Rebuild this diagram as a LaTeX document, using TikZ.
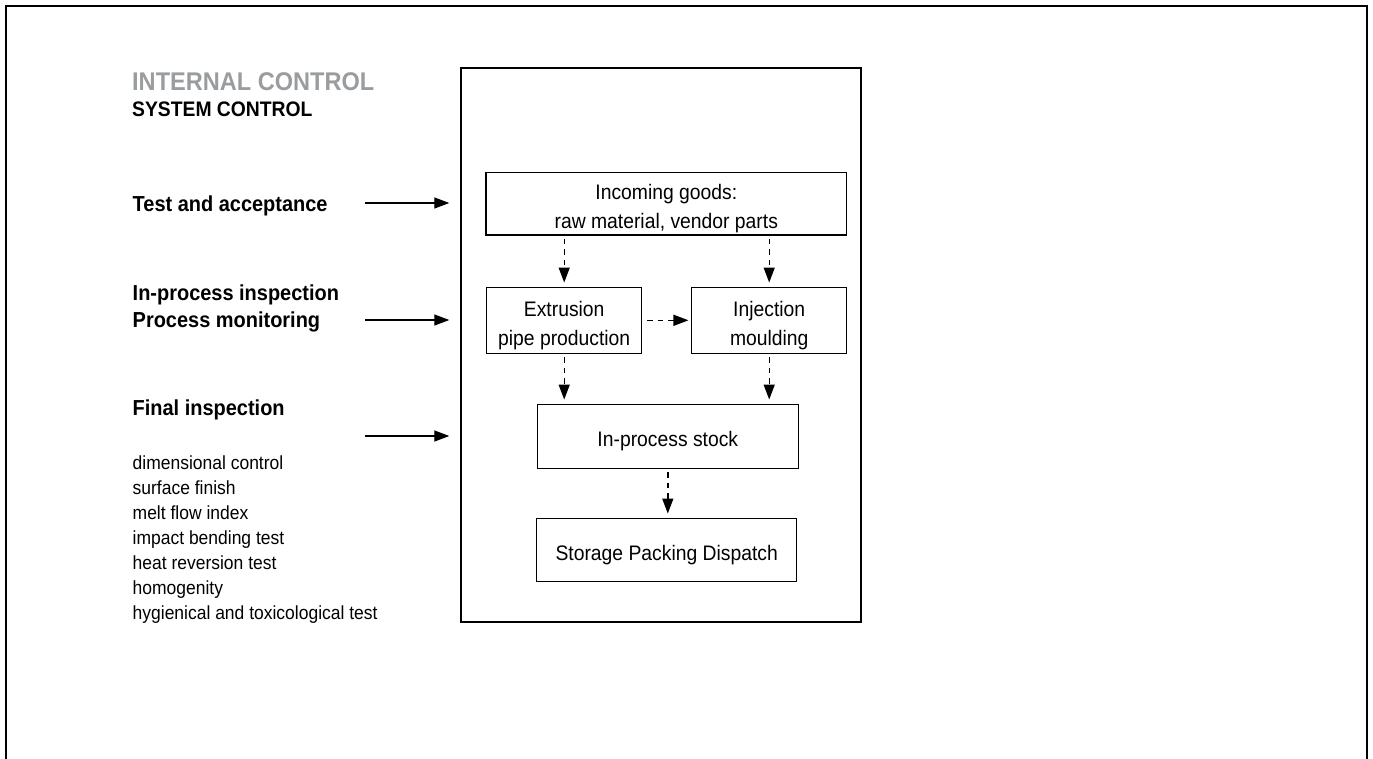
\documentclass[tikz,border=0pt]{standalone}
\usepackage{fontspec}
\setmainfont{Liberation Sans}[FakeStretch=0.92]
\usetikzlibrary{arrows.meta}
\definecolor{titlegray}{RGB}{154,157,160}
\tikzset{
  box/.style={draw, line width=1.5pt, inner sep=0pt, rectangle},
  lbl/.style={inner sep=0pt, anchor=base west, font=\fontsize{21.7}{26}\selectfont\bfseries},
  item/.style={inner sep=0pt, anchor=base west, font=\fontsize{19}{23}\selectfont},
  btxt/.style={inner sep=0pt, anchor=base, font=\fontsize{21}{25}\selectfont},
  solidarr/.style={line width=1.3pt, -{Triangle[length=15pt,width=11pt]}, shorten >=11pt},
  dasharr/.style={line width=1.4pt, dash pattern=on 5.5pt off 5pt, -{Triangle[length=15pt,width=11pt]}, shorten <=3pt, shorten >=4pt}
}
\begin{document}
\begin{tikzpicture}[x=1pt,y=-1pt]
\useasboundingbox (0,0) rectangle (1373,758);
% outer frame (open at the bottom)
\draw[line width=2pt] (6,780) -- (6,6) -- (1367,6) -- (1367,780);

% titles
\node[inner sep=0pt, anchor=base west, text=titlegray, font=\fontsize{25.6}{30}\selectfont\bfseries] (t1) at (132,90) {INTERNAL CONTROL};
\node[inner sep=0pt, anchor=base west, font=\fontsize{21}{25}\selectfont\bfseries] (t2) at (132,116.7) {SYSTEM CONTROL};

% left labels
\node[lbl] (l1) at (132.5,211.7) {Test and acceptance};
\node[lbl] (l2a) at (132.5,300.7) {In-process inspection};
\node[lbl] (l2b) at (132.5,327.3) {Process monitoring};
\node[lbl] (l3) at (132.5,415) {Final inspection};

\node[item] (i1) at (132.5,469.3) {dimensional control};
\node[item] (i2) at (132.5,494.3) {surface finish};
\node[item] (i3) at (132.5,519.3) {melt flow index};
\node[item] (i4) at (132.5,544.3) {impact bending test};
\node[item] (i5) at (132.5,569.3) {heat reversion test};
\node[item] (i6) at (132.5,594.3) {homogenity};
\node[item] (i7) at (132.5,619.3) {hygienical and toxicological test};

% big box
\node[box, line width=1.4pt, minimum width=400, minimum height=554] (big) at (661,345) {};

% process boxes
\node[box, minimum width=360.7, minimum height=62.7] (inc) at (666.3,203.7) {};
\node[btxt] (inct1) at (666.3,199) {Incoming goods:};
\node[btxt] (inct2) at (666.3,228) {raw material, vendor parts};

\node[box, minimum width=155, minimum height=66] (ext) at (564.2,320.3) {};
\node[btxt] (extt1) at (564.2,316.7) {Extrusion};
\node[btxt] (extt2) at (564.2,345) {pipe production};

\node[box, minimum width=155, minimum height=66] (inj) at (769.2,320.3) {};
\node[btxt] (injt1) at (769.2,316.7) {Injection};
\node[btxt] (injt2) at (769.2,345) {moulding};

\node[box, minimum width=261, minimum height=64] (stock) at (667.8,436.3) {};
\node[btxt] (stockt) at (667.8,446.7) {In-process stock};

\node[box, minimum width=260, minimum height=63.4] (stor) at (666.7,550) {};
\node[btxt] (stort) at (666.7,560) {Storage Packing Dispatch};

% solid arrows from the left
\coordinate (s1) at (365,203);
\coordinate (s2) at (365,320);
\coordinate (s3) at (365,436);
\draw[solidarr] (s1) -- (s1 -| big.west);
\draw[solidarr] (s2) -- (s2 -| big.west);
\draw[solidarr] (s3) -- (s3 -| big.west);

% dashed arrows
\draw[dasharr] (ext.north |- inc.south) -- (ext.north);
\draw[dasharr] (inj.north |- inc.south) -- (inj.north);
\draw[dasharr, shorten <=5pt, shorten >=2.5pt] (ext.east) -- (inj.west);
\draw[dasharr] (ext.south) -- (ext.south |- stock.north);
\draw[dasharr] (inj.south) -- (inj.south |- stock.north);
\draw[dasharr] (stock.south) -- (stock.south |- stor.north);
\end{tikzpicture}
\end{document}
